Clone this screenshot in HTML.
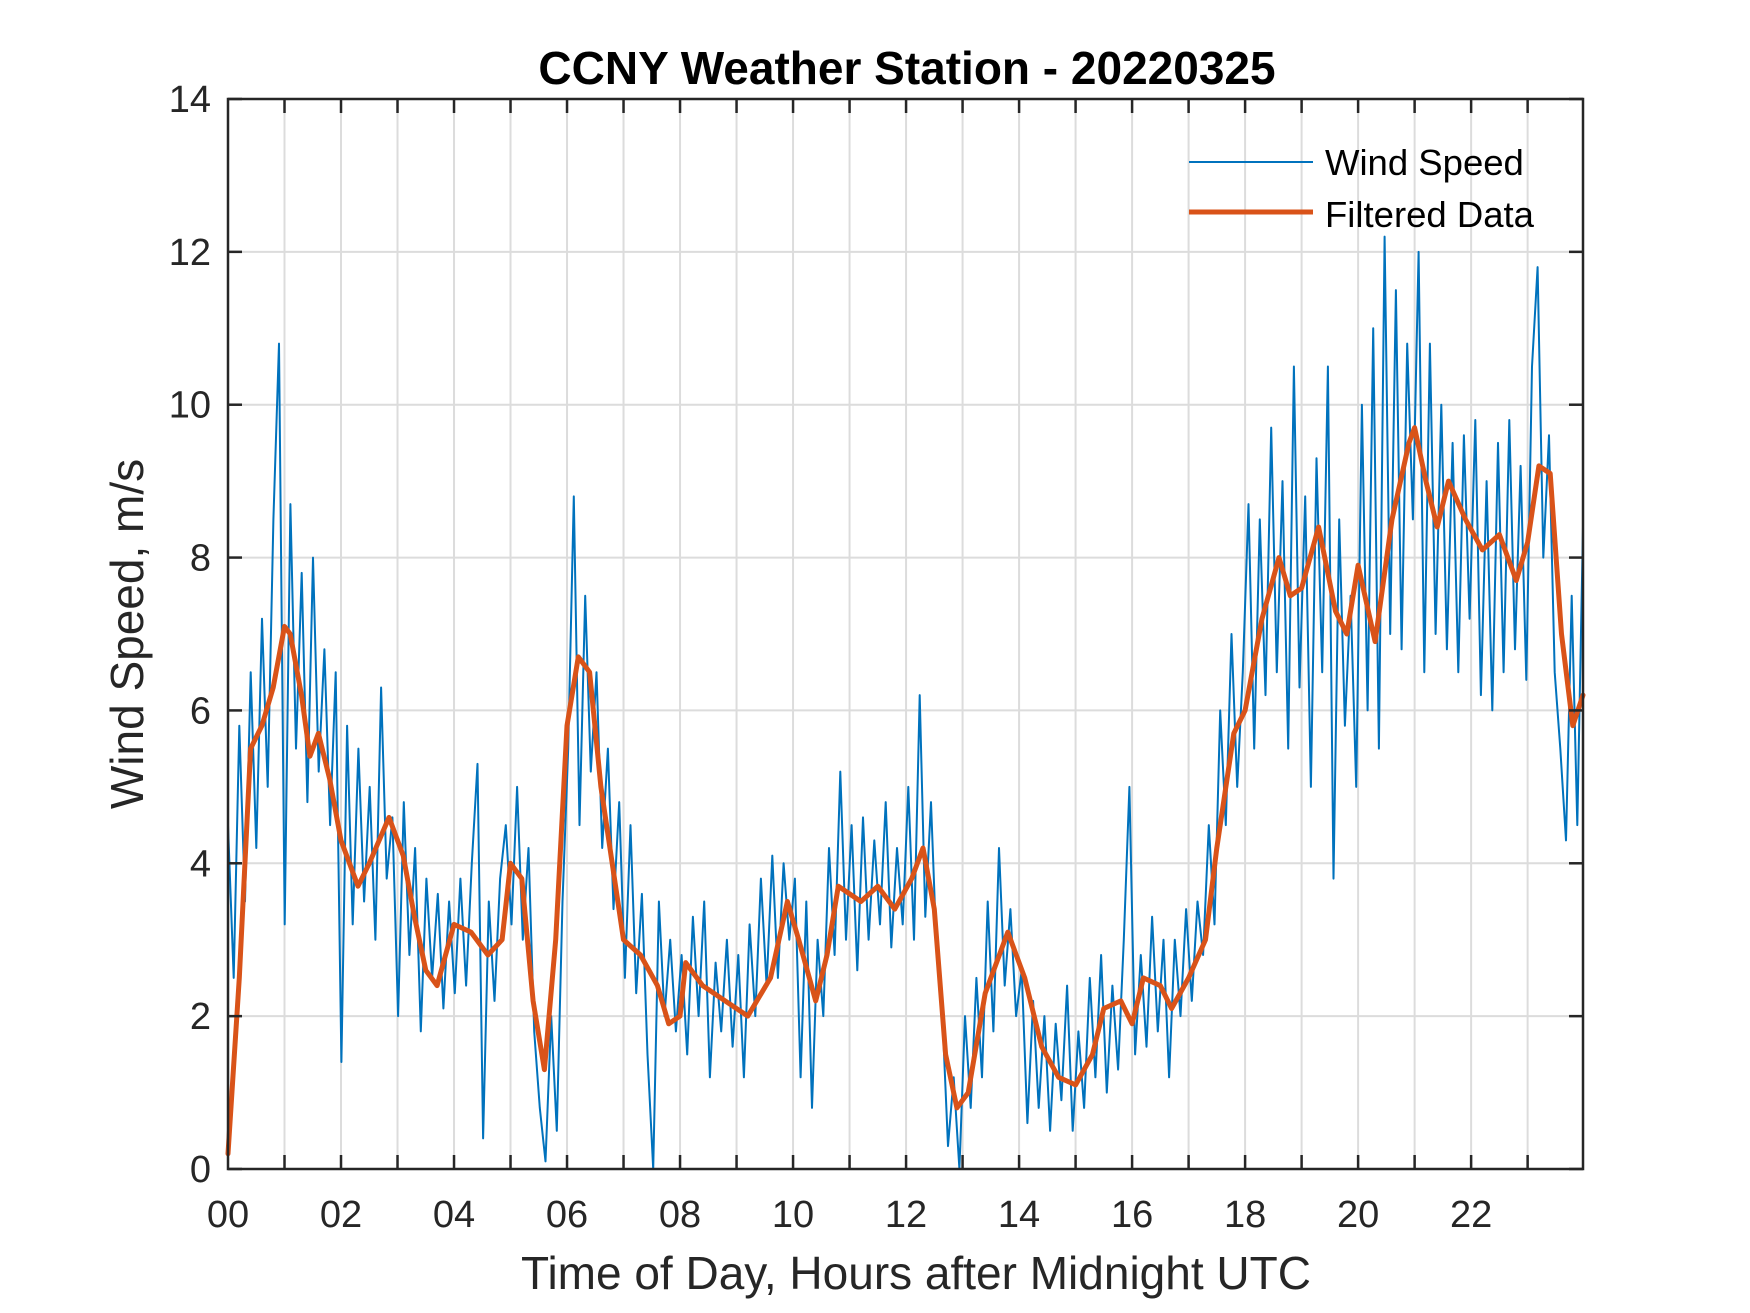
<!DOCTYPE html>
<html><head><meta charset="utf-8"><style>
html,body{margin:0;padding:0;background:#fff;}
svg{display:block;font-family:"Liberation Sans",Arial,sans-serif;}
</style></head><body>
<svg id="chart" width="1750" height="1313" viewBox="0 0 1750 1313">
<rect width="1750" height="1313" fill="#fff"/>
<g id="grid"></g>
<g id="series"></g>
<g id="axes"></g>
<text x="907" y="84" font-size="46" font-weight="bold" text-anchor="middle" fill="#000">CCNY Weather Station - 20220325</text>
<text x="916" y="1289" font-size="46" text-anchor="middle" fill="#262626">Time of Day, Hours after Midnight UTC</text>
<text transform="translate(143,634) rotate(-90)" font-size="46" text-anchor="middle" fill="#262626">Wind Speed, m/s</text>
<g>
<g>
<line x1="1189" y1="162" x2="1313" y2="162" stroke="#0072BD" stroke-width="2"/>
<text x="1325" y="175" font-size="36.5" fill="#000">Wind Speed</text></g>
<g>
<line x1="1189" y1="212" x2="1313" y2="212" stroke="#D95319" stroke-width="5"/>
<text x="1325" y="227" font-size="36.5" fill="#000">Filtered Data</text></g>
</g>
</svg>
<script>
const xTicks=[0,2,4,6,8,10,12,14,16,18,20,22];
const xTickLabels=["00","02","04","06","08","10","12","14","16","18","20","22"];
const yTicks=[0,2,4,6,8,10,12,14];
const rawSpeed=[
4.5,2.5,5.8,3.5,6.5,4.2,7.2,5.0,8.5,10.8,
3.2,8.7,5.5,7.8,4.8,8.0,5.2,6.8,4.5,6.5,
1.4,5.8,3.2,5.5,3.5,5.0,3.0,6.3,3.8,4.6,
2.0,4.8,2.8,4.2,1.8,3.8,2.5,3.6,2.1,3.5,
2.3,3.8,2.4,4.0,5.3,0.4,3.5,2.2,3.8,4.5,
3.2,5.0,3.0,4.2,1.8,0.8,0.1,2.0,0.5,3.5,
5.5,8.8,4.5,7.5,5.2,6.5,4.2,5.5,3.4,4.8,
2.5,4.5,2.3,3.6,1.5,0.0,3.5,2.0,3.0,1.8,
2.8,1.5,3.3,2.0,3.5,1.2,2.7,1.8,3.0,1.6,
2.8,1.2,3.2,2.0,3.8,2.4,4.1,2.5,4.0,3.0,
3.8,1.2,3.5,0.8,3.0,2.0,4.2,2.8,5.2,3.0,
4.5,2.6,4.6,3.0,4.3,3.2,4.8,2.9,4.2,3.2,
5.0,3.0,6.2,3.3,4.8,2.8,2.0,0.3,1.2,0.0,
2.0,0.8,2.5,1.2,3.5,1.8,4.2,2.4,3.4,2.0,
2.6,0.6,2.2,0.8,2.0,0.5,1.9,0.9,2.4,0.5,
1.8,0.8,2.5,1.2,2.8,1.0,2.4,1.3,3.0,5.0,
1.5,2.8,1.6,3.3,1.8,3.0,1.2,3.0,2.0,3.4,
2.2,3.5,2.8,4.5,3.2,6.0,4.5,7.0,5.0,6.5,
8.7,5.5,8.5,6.2,9.7,6.5,9.0,5.5,10.5,6.3,
8.8,5.0,9.3,6.5,10.5,3.8,8.5,5.8,7.5,5.0,
10.0,6.0,11.0,5.5,12.2,7.0,11.5,6.8,10.8,8.5,
12.0,6.5,10.8,7.0,10.0,6.8,9.5,6.5,9.6,7.2,
9.8,6.2,9.0,6.0,9.5,6.5,9.8,6.8,9.2,6.4,
10.5,11.8,8.0,9.6,6.5,5.5,4.3,7.5,4.5,8.4];
const filtHours=[0,0.2,0.4,0.6,0.8,1.0,1.1,1.3,1.45,1.6,1.8,2.0,2.3,2.5,2.85,3.1,3.3,3.5,3.7,4.0,4.3,4.6,4.85,5.0,5.2,5.4,5.6,5.8,6.0,6.2,6.4,6.6,6.8,7.0,7.3,7.6,7.8,8.0,8.1,8.4,8.8,9.2,9.6,9.9,10.1,10.4,10.6,10.8,11.2,11.5,11.8,12.1,12.3,12.5,12.7,12.9,13.1,13.4,13.8,14.1,14.4,14.7,15.0,15.3,15.5,15.8,16.0,16.2,16.5,16.7,17.0,17.3,17.5,17.8,18.0,18.3,18.6,18.8,19.0,19.3,19.6,19.8,20.0,20.3,20.6,20.9,21.0,21.2,21.4,21.6,21.9,22.2,22.5,22.8,23.0,23.2,23.4,23.6,23.8,23.98];
const filtValues=[0.2,2.5,5.5,5.8,6.3,7.1,7.0,6.2,5.4,5.7,5.1,4.3,3.7,4.0,4.6,4.1,3.3,2.6,2.4,3.2,3.1,2.8,3.0,4.0,3.8,2.2,1.3,3.0,5.8,6.7,6.5,5.0,4.0,3.0,2.8,2.4,1.9,2.0,2.7,2.4,2.2,2.0,2.5,3.5,3.0,2.2,2.8,3.7,3.5,3.7,3.4,3.8,4.2,3.4,1.5,0.8,1.0,2.3,3.1,2.5,1.6,1.2,1.1,1.5,2.1,2.2,1.9,2.5,2.4,2.1,2.5,3.0,4.2,5.7,6.0,7.2,8.0,7.5,7.6,8.4,7.3,7.0,7.9,6.9,8.5,9.5,9.7,9.0,8.4,9.0,8.5,8.1,8.3,7.7,8.2,9.2,9.1,7.0,5.8,6.2];

const L=228,R=1583,T=99,B=1169,XMAX=23.98,YMAX=14;
const sx=h=>L+h/XMAX*(R-L);
const sy=v=>B-v/YMAX*(B-T);
const NS="http://www.w3.org/2000/svg";
function mk(tag,attrs,parent){const e=document.createElementNS(NS,tag);for(const k in attrs)e.setAttribute(k,attrs[k]);parent.appendChild(e);return e;}
const grid=document.getElementById('grid'),series=document.getElementById('series'),axes=document.getElementById('axes');
for(let h=1;h<24;h++){
  const g=mk('line',{x1:sx(h),x2:sx(h),y1:T,y2:B,stroke:'#dcdcdc','stroke-width':2},grid);
  
  
}
yTicks.forEach(v=>{
  const g=mk('line',{x1:L,x2:R,y1:sy(v),y2:sy(v),stroke:'#dcdcdc','stroke-width':2},grid);
  
  
});
const step=XMAX/(rawSpeed.length-1);
const rp=mk('polyline',{points:rawSpeed.map((v,i)=>sx(i*step).toFixed(1)+','+sy(v).toFixed(1)).join(' '),fill:'none',stroke:'#0072BD','stroke-width':2,'stroke-linejoin':'round'},series);


const fp=mk('polyline',{points:filtValues.map((v,i)=>sx(filtHours[i]).toFixed(1)+','+sy(v).toFixed(1)).join(' '),fill:'none',stroke:'#D95319','stroke-width':5,'stroke-linejoin':'round','stroke-linecap':'round'},series);


const box=mk('rect',{x:L,y:T,width:R-L,height:B-T,fill:'none',stroke:'#262626','stroke-width':2.5},axes);


for(let h=1;h<24;h++){
  mk('line',{x1:sx(h),x2:sx(h),y1:B,y2:B-14,stroke:'#262626','stroke-width':2.5},axes);
  mk('line',{x1:sx(h),x2:sx(h),y1:T,y2:T+14,stroke:'#262626','stroke-width':2.5},axes);
}
xTicks.forEach((h,i)=>{
  const t=mk('text',{x:sx(h),y:1227,'font-size':38,'text-anchor':'middle',fill:'#262626'},axes);
  t.textContent=xTickLabels[i];
  
  
});
yTicks.forEach(v=>{
  mk('line',{x1:L,x2:L+14,y1:sy(v),y2:sy(v),stroke:'#262626','stroke-width':2.5},axes);
  mk('line',{x1:R,x2:R-14,y1:sy(v),y2:sy(v),stroke:'#262626','stroke-width':2.5},axes);
  const t=mk('text',{x:211,y:sy(v)+13,'font-size':38,'text-anchor':'end',fill:'#262626'},axes);
  t.textContent=String(v);
  
  
});
</script>
</body></html>
